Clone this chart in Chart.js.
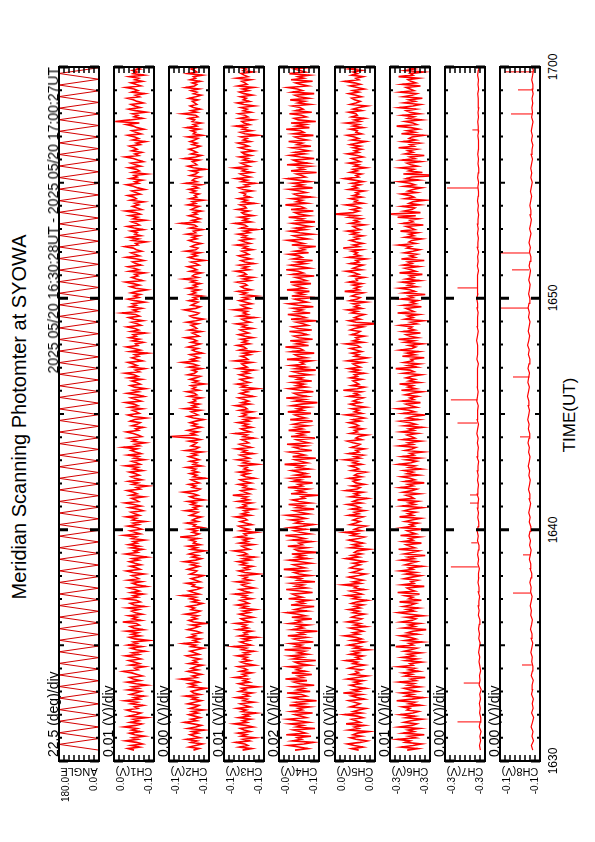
<!DOCTYPE html>
<html>
<head>
<meta charset="utf-8">
<script src="https://cdn.jsdelivr.net/npm/chart.js@4.4.1/dist/chart.umd.min.js"></script>
<style>
  html, body { margin: 0; padding: 0; background: #fff; }
  #page { position: relative; width: 595px; height: 842px; overflow: hidden;
          font-family: "Liberation Sans", Arial, Helvetica, sans-serif; color: #000; }
  #page canvas { position: absolute; }
  .txt { position: absolute; white-space: nowrap; line-height: 1; transform-origin: 0 0; }
</style>
</head>
<body>
<div id="page"></div>
<script>
// Meridian Scanning Photometer, SYOWA - 2025 05/20 16:30:28UT .. 17:00:27UT
// time is in minutes after 16:00 UT

const titleText = 'Meridian Scanning Photomter at SYOWA';
const periodText = '2025 05/20 16:30:28UT - 2025 05/20 17:00:27UT';
const axisTitle = 'TIME(UT)';

const timeTicks = [30, 40, 50, 60];
const timeTickLabels = ['1630', '1640', '1650', '1700'];

const channelNames = ['ANGLE', 'CH1(V)', 'CH2(V)', 'CH3(V)', 'CH4(V)', 'CH5(V)', 'CH6(V)', 'CH7(V)', 'CH8(V)'];
const divLabels = ['22.5 (deg)/div', '0.01 (V)/div', '0.00 (V)/div', '0.01 (V)/div', '0.02 (V)/div',
                   '0.00 (V)/div', '0.01 (V)/div', '0.00 (V)/div', '0.00 (V)/div'];
const highLabels = ['180.0', '0.0', '-0.1', '-0.1', '-0.0', '0.0', '-0.3', '-0.3', '-0.1'];
const lowLabels  = ['0.0', '-0.1', '-0.1', '-0.1', '-0.1', '0.0', '-0.3', '-0.3', '-0.1'];

// value range shown across each strip (high value on the left)
const axisHigh = [180, -14.4, -75, -73.4, -46, 31.9, -279, -270, -80];
const axisLow  = [0, -67.4, -111, -126.4, -96, 3.4, -321, -302, -112];

// sampling of the busy channels (every 4 s) and the quiet ones (every 12 s)
const START = 30.47, END = 60.45, SAMPLES = 450, QUIET_SAMPLES = 150;

// scan angle turning points
const angleTimes = [30.47,30.72,30.97,31.22,31.47,31.72,31.97,32.22,32.47,32.72,
  32.97,33.22,33.47,33.72,33.97,34.22,34.47,34.72,34.97,35.22,
  35.47,35.72,35.97,36.22,36.47,36.72,36.97,37.22,37.47,37.72,
  37.97,38.22,38.47,38.72,38.97,39.22,39.47,39.72,39.97,40.22,
  40.47,40.72,40.97,41.22,41.47,41.72,41.97,42.22,42.47,42.72,
  42.97,43.22,43.47,43.72,43.97,44.22,44.47,44.72,44.97,45.22,
  45.47,45.72,45.97,46.22,46.47,46.72,46.97,47.22,47.47,47.72,
  47.97,48.22,48.47,48.72,48.97,49.22,49.47,49.72,49.97,50.22,
  50.47,50.72,50.97,51.22,51.47,51.72,51.97,52.22,52.47,52.72,
  52.97,53.22,53.47,53.72,53.97,54.22,54.47,54.72,54.97,55.22,
  55.47,55.72,55.97,56.22,56.47,56.72,56.97,57.22,57.47,57.72,
  57.97,58.22,58.47,58.72,58.97,59.22,59.47,59.72,59.97,60.22,60.47];
const angleValues = [0,180,0,180,0,180,0,180,0,180,0,180,0,180,0,180,0,180,0,180,
  0,180,0,180,0,180,0,180,0,180,0,180,0,180,0,180,0,180,0,180,
  0,180,0,180,0,180,0,180,0,180,0,180,0,180,0,180,0,180,0,180,
  0,180,0,180,0,180,0,180,0,180,0,180,0,180,0,180,0,180,0,180,
  0,180,0,180,0,180,0,180,0,180,0,180,0,180,0,180,0,180,0,180,
  0,180,0,180,0,180,0,180,0,180,0,180,0,180,0,180,0,180,0,180,0];

// channel voltages in mV
const ch1 = [-41,-33,-48,-37,-52,-44,-30,-46,-39,-55,-42,-35,-49,-38,-45,-28,-43,-51,-36,-47,-40,-57,-34,-44,-50,-38,-31,-46,-42,-53,
  -37,-45,-29,-48,-41,-54,-36,-43,-50,-33,-47,-39,-58,-44,-32,-49,-40,-35,-52,-45,-38,-27,-46,-42,-55,-36,-48,-41,-34,-50,
  -43,-30,-47,-39,-56,-44,-37,-51,-33,-45,-40,-60,-42,-35,-49,-38,-46,-31,-53,-41,-36,-48,-44,-26,-50,-39,-45,-34,-52,-43,
  -38,-47,-32,-55,-41,-36,-49,-44,-29,-46,-40,-53,-37,-48,-42,-34,-57,-45,-39,-51,-33,-47,-43,-38,-54,-40,-31,-49,-44,-36,
  -50,-42,-35,-47,-39,-58,-43,-30,-46,-41,-52,-37,-48,-34,-45,-40,-55,-38,-44,-28,-49,-42,-36,-51,-45,-33,-47,-40,-56,-39,
  -44,-31,-48,-42,-37,-53,-46,-35,-50,-41,-29,-47,-43,-38,-54,-36,-45,-40,-32,-49,-44,-59,-39,-46,-34,-51,-42,-37,-48,-43,
  -35,-52,-40,-46,-30,-49,-44,-38,-55,-41,-47,-33,-50,-43,-37,-45,-27,-48,-42,-56,-39,-44,-34,-51,-46,-40,-31,-47,-43,-53,
  -38,-45,-49,-36,-42,-57,-40,-33,-48,-44,-39,-52,-35,-46,-41,-30,-50,-43,-37,-54,-45,-32,-47,-40,-56,-42,-36,-49,-44,-38,
  -51,-34,-46,-41,-29,-48,-43,-55,-37,-45,-40,-33,-52,-44,-38,-47,-42,-59,-36,-49,-41,-31,-46,-43,-53,-39,-48,-35,-44,-40,
  -56,-37,-47,-42,-32,-50,-45,-38,-53,-41,-34,-48,-43,-25,-46,-40,-51,-36,-44,-39,-55,-42,-33,-47,-41,-49,-37,-45,-58,-43,
  -36,-48,-40,-30,-52,-44,-38,-46,-42,-55,-35,-47,-41,-33,-50,-43,-39,-54,-45,-31,-48,-42,-37,-51,-44,-40,-29,-46,-43,-57,
  -39,-47,-34,-50,-42,-45,-37,-53,-41,-32,-48,-44,-38,-56,-40,-46,-35,-49,-43,-30,-51,-45,-39,-47,-42,-54,-36,-44,-41,-33,
  -49,-43,-38,-55,-46,-40,-31,-47,-42,-52,-36,-45,-41,-58,-39,-48,-44,-34,-50,-43,-37,-53,-46,-40,-29,-47,-42,-51,-38,-45,
  -41,-35,-49,-44,-56,-39,-47,-42,-33,-50,-43,-38,-54,-45,-40,-31,-48,-16,-36,-52,-41,-46,-39,-57,-43,-34,-49,-42,-37,-53,
  -45,-40,-32,-48,-43,-55,-38,-46,-41,-30,-50,-44,-37,-52,-42,-47,-35,-54,-40,-45,-39,-49,-43,-33,-51,-46,-38,-44,-41,-48];
const ch2 = [-97,-102,-93,-99,-105,-95,-100,-91,-103,-98,-94,-101,-96,-107,-92,-99,-104,-97,-89,-100,-95,-103,-98,-93,-101,-96,-106,-94,-99,-102,
  -92,-98,-104,-96,-100,-90,-103,-97,-95,-101,-108,-94,-99,-93,-102,-97,-86,-100,-96,-104,-98,-92,-101,-95,-99,-105,-93,-100,-97,-103,
  -96,-91,-102,-98,-94,-100,-106,-95,-99,-88,-101,-97,-103,-93,-99,-96,-104,-100,-92,-98,-102,-95,-109,-97,-93,-100,-96,-101,-90,-99,
  -103,-95,-98,-92,-100,-105,-96,-101,-94,-99,-87,-102,-97,-93,-100,-104,-96,-98,-91,-103,-99,-95,-101,-106,-94,-98,-100,-92,-97,-102,
  -95,-100,-89,-99,-104,-96,-101,-93,-98,-107,-95,-100,-92,-103,-97,-99,-94,-101,-85,-98,-102,-96,-100,-93,-105,-97,-99,-91,-101,-96,
  -99,-104,-94,-98,-101,-90,-100,-97,-103,-95,-99,-92,-106,-98,-94,-101,-97,-88,-100,-103,-96,-99,-93,-102,-98,-95,-108,-97,-100,-94,
  -101,-96,-99,-91,-104,-97,-100,-94,-102,-98,-93,-100,-96,-105,-90,-99,-102,-95,-98,-100,-93,-103,-97,-76,-99,-95,-101,-92,-98,-104,
  -96,-100,-94,-99,-106,-97,-92,-101,-98,-95,-103,-89,-100,-96,-102,-94,-99,-97,-104,-93,-100,-98,-91,-102,-96,-99,-95,-107,-97,-101,
  -94,-99,-103,-92,-98,-100,-96,-104,-93,-101,-97,-87,-100,-95,-102,-98,-94,-105,-99,-96,-101,-92,-98,-103,-95,-100,-97,-90,-102,-99,
  -96,-104,-93,-100,-98,-95,-101,-91,-99,-106,-97,-94,-100,-102,-96,-89,-99,-103,-95,-98,-101,-93,-100,-97,-105,-94,-99,-96,-102,-92,
  -100,-97,-103,-95,-99,-88,-101,-96,-98,-104,-94,-100,-97,-92,-102,-99,-95,-107,-98,-93,-100,-96,-103,-90,-99,-101,-95,-98,-104,-97,
  -93,-100,-96,-102,-91,-99,-97,-105,-94,-100,-98,-86,-101,-96,-103,-99,-93,-100,-97,-104,-95,-98,-102,-92,-99,-96,-106,-94,-100,-98,
  -102,-95,-99,-93,-101,-97,-104,-90,-100,-96,-98,-103,-94,-99,-101,-95,-108,-97,-92,-100,-98,-96,-102,-89,-99,-104,-95,-100,-97,-93,
  -99,-103,-96,-100,-94,-98,-101,-92,-105,-97,-99,-95,-102,-91,-100,-97,-104,-96,-98,-93,-101,-99,-87,-100,-95,-103,-97,-94,-100,-98,
  -96,-101,-93,-99,-104,-97,-100,-95,-102,-90,-98,-100,-96,-103,-94,-99,-97,-105,-92,-100,-98,-95,-101,-97,-93,-102,-99,-96,-100,-94];
const ch3 = [-98,-110,-94,-105,-101,-89,-107,-99,-115,-96,-103,-92,-108,-100,-95,-112,-102,-87,-104,-98,-109,-93,-106,-100,-116,-97,-103,-91,-108,-101,
  -95,-113,-99,-104,-90,-106,-100,-111,-94,-102,-97,-118,-101,-93,-107,-99,-105,-88,-103,-98,-110,-95,-104,-100,-92,-114,-102,-96,-108,-99,
  -104,-91,-106,-100,-113,-97,-103,-86,-109,-101,-95,-107,-99,-117,-94,-104,-100,-110,-92,-105,-98,-103,-89,-108,-100,-96,-112,-102,-94,-107,
  -99,-115,-97,-104,-91,-106,-101,-95,-110,-98,-103,-88,-108,-100,-94,-113,-102,-97,-105,-90,-109,-99,-104,-96,-119,-101,-93,-106,-100,-111,
  -96,-103,-92,-108,-99,-114,-95,-104,-100,-87,-107,-101,-97,-112,-94,-105,-99,-109,-91,-103,-100,-116,-96,-106,-98,-93,-110,-102,-95,-104,
  -101,-89,-108,-97,-105,-100,-113,-94,-103,-99,-110,-92,-106,-98,-104,-85,-107,-101,-96,-111,-99,-103,-93,-109,-100,-95,-114,-102,-97,-106,
  -93,-108,-100,-104,-96,-117,-99,-105,-91,-107,-101,-95,-112,-98,-103,-90,-109,-100,-94,-106,-102,-97,-113,-99,-104,-88,-108,-101,-96,-110,
  -99,-105,-92,-107,-100,-115,-96,-103,-98,-111,-94,-104,-101,-89,-108,-97,-106,-100,-93,-112,-102,-95,-105,-99,-118,-97,-103,-91,-107,-100,
  -95,-109,-101,-94,-106,-99,-113,-92,-104,-100,-97,-110,-88,-105,-102,-96,-108,-99,-115,-94,-103,-100,-91,-107,-98,-104,-96,-112,-101,-93,
  -106,-100,-95,-111,-98,-103,-90,-108,-101,-97,-114,-93,-105,-99,-104,-87,-107,-100,-96,-110,-102,-94,-106,-99,-116,-97,-103,-92,-109,-100,
  -96,-104,-101,-91,-108,-99,-112,-95,-103,-100,-89,-107,-98,-105,-94,-113,-101,-96,-109,-100,-93,-106,-102,-97,-111,-99,-104,-90,-108,-101,
  -95,-110,-98,-103,-92,-107,-100,-117,-96,-104,-101,-88,-109,-99,-105,-94,-112,-100,-97,-106,-91,-103,-101,-95,-114,-98,-104,-93,-108,-100,
  -102,-96,-111,-99,-93,-106,-101,-115,-97,-104,-90,-108,-100,-95,-110,-98,-103,-87,-107,-101,-96,-112,-99,-105,-94,-109,-100,-97,-113,-102,
  -94,-106,-100,-92,-108,-99,-104,-96,-118,-101,-95,-110,-98,-103,-89,-107,-100,-97,-112,-94,-105,-101,-93,-109,-99,-104,-96,-114,-100,-91,
  -107,-99,-103,-95,-111,-100,-94,-106,-98,-113,-92,-104,-101,-97,-109,-90,-105,-100,-96,-112,-99,-103,-94,-108,-101,-97,-110,-100,-95,-104];
const ch4 = [-66,-82,-71,-58,-77,-89,-63,-74,-69,-86,-55,-79,-72,-64,-91,-68,-76,-60,-83,-70,-57,-80,-73,-66,-88,-62,-75,-70,-84,-59,
  -78,-67,-93,-71,-61,-80,-74,-56,-85,-69,-77,-63,-90,-72,-65,-81,-54,-76,-70,-87,-62,-79,-68,-73,-58,-84,-71,-66,-92,-64,
  -75,-60,-82,-70,-78,-53,-86,-67,-74,-61,-89,-72,-65,-80,-57,-77,-71,-94,-63,-76,-69,-83,-59,-73,-68,-87,-62,-79,-70,-56,
  -81,-66,-74,-90,-61,-77,-70,-84,-58,-75,-68,-63,-88,-72,-55,-80,-67,-76,-62,-91,-69,-74,-60,-85,-71,-65,-79,-52,-78,-70,
  -64,-86,-73,-59,-82,-68,-77,-62,-93,-70,-66,-81,-57,-75,-71,-87,-63,-78,-69,-54,-84,-72,-65,-80,-60,-76,-89,-67,-74,-61,
  -79,-70,-56,-83,-72,-65,-90,-68,-76,-58,-85,-71,-63,-78,-74,-95,-61,-77,-69,-82,-57,-75,-70,-88,-64,-73,-60,-86,-67,-80,
  -71,-62,-84,-69,-76,-53,-81,-73,-66,-92,-63,-78,-70,-59,-87,-72,-65,-79,-56,-83,-74,-68,-91,-61,-77,-70,-85,-58,-75,-67,
  -82,-64,-73,-88,-60,-79,-71,-66,-86,-57,-76,-69,-83,-62,-74,-94,-67,-78,-55,-81,-70,-65,-89,-72,-59,-80,-68,-77,-63,-87,
  -69,-75,-58,-84,-71,-64,-92,-67,-79,-61,-77,-73,-86,-56,-80,-70,-66,-90,-62,-76,-72,-54,-83,-68,-78,-60,-88,-71,-65,-81,
  -74,-59,-87,-70,-63,-82,-76,-68,-93,-61,-79,-72,-57,-85,-67,-75,-64,-89,-70,-58,-81,-73,-66,-91,-62,-77,-69,-84,-56,-78,
  -71,-65,-86,-60,-80,-74,-67,-90,-63,-76,-70,-55,-84,-72,-61,-79,-68,-88,-64,-75,-71,-59,-83,-66,-78,-73,-92,-62,-77,-69,
  -57,-82,-70,-64,-87,-72,-60,-79,-67,-85,-74,-63,-91,-69,-76,-58,-83,-71,-66,-89,-61,-78,-73,-54,-81,-68,-75,-62,-86,-70,
  -65,-80,-72,-59,-88,-67,-76,-63,-84,-70,-57,-79,-74,-68,-93,-61,-77,-71,-85,-56,-82,-69,-64,-90,-73,-60,-78,-66,-83,-72,
  -62,-86,-69,-75,-58,-81,-71,-66,-89,-64,-77,-73,-55,-84,-68,-79,-61,-92,-70,-65,-80,-74,-59,-87,-67,-76,-72,-63,-85,-70,
  -78,-60,-83,-71,-66,-90,-63,-75,-69,-57,-82,-73,-67,-88,-61,-77,-70,-84,-59,-79,-72,-65,-86,-68,-74,-62,-81,-70,-64,-76];
const ch5 = [15,20,12,18,23,14,9,17,21,13,19,16,8,22,15,18,11,24,14,17,20,12,16,25,13,19,15,10,21,17,
  14,18,22,11,16,20,13,26,15,19,10,17,21,14,18,12,23,16,9,20,15,17,13,22,18,11,19,16,24,14,
  17,12,21,15,19,8,18,14,22,16,11,20,13,17,25,15,19,12,16,21,10,18,14,23,16,13,20,17,11,19,
  15,22,14,18,12,20,16,9,19,15,23,13,17,21,11,18,16,26,14,19,12,17,22,15,10,20,16,13,21,18,
  14,19,11,17,24,15,20,13,18,16,8,21,14,19,12,17,22,15,11,20,16,25,13,18,15,10,21,17,14,19,
  16,12,22,15,18,11,20,14,17,23,13,19,16,9,21,15,18,12,24,16,14,20,11,17,19,15,22,13,18,16,
  10,20,15,17,21,13,19,16,25,14,18,12,22,15,17,11,20,16,14,19,23,13,17,15,9,21,16,18,12,20,
  15,17,22,14,19,11,16,24,13,18,15,20,10,17,21,14,19,16,12,22,15,18,13,26,16,11,20,15,17,19,
  13,21,16,18,11,20,15,22,14,17,19,12,23,16,9,18,15,20,13,17,21,14,16,24,12,19,15,17,11,20,
  16,14,21,18,12,19,2,17,22,14,18,15,11,20,16,23,13,18,15,19,10,21,16,14,20,17,12,25,15,18,
  14,19,13,22,16,17,11,20,15,18,24,13,19,16,12,21,15,17,10,22,14,18,16,20,13,26,15,19,12,17,
  21,15,18,12,20,16,23,14,17,19,11,21,15,18,13,22,16,33,19,15,20,14,17,24,12,18,16,21,13,19,
  15,17,11,22,16,19,14,20,12,18,25,15,17,13,21,16,19,10,18,15,22,14,17,20,12,16,23,15,18,13,
  19,14,21,16,10,20,15,18,23,13,17,16,21,12,19,15,24,14,18,11,20,16,17,22,13,19,15,9,21,17,
  14,18,20,13,17,22,15,19,11,16,21,14,18,25,15,17,12,20,16,19,13,22,15,18,10,17,21,14,19,16];
const ch6 = [-297,-308,-291,-303,-312,-295,-300,-287,-306,-299,-315,-293,-304,-298,-310,-289,-302,-307,-294,-301,-313,-296,-305,-290,-303,-309,-297,-300,-292,-311,
  -299,-305,-286,-302,-314,-296,-303,-291,-308,-300,-294,-310,-298,-304,-289,-306,-301,-316,-295,-302,-293,-309,-299,-305,-288,-303,-300,-312,-296,-307,
  -292,-304,-298,-311,-294,-301,-307,-285,-303,-299,-313,-295,-306,-300,-290,-308,-297,-303,-317,-293,-305,-299,-310,-291,-302,-306,-296,-314,-300,-288,
  -304,-297,-309,-293,-301,-306,-289,-312,-299,-303,-295,-310,-287,-305,-300,-297,-315,-292,-304,-301,-308,-294,-302,-311,-296,-306,-290,-303,-299,-313,
  -295,-301,-307,-291,-304,-298,-316,-294,-302,-309,-288,-305,-300,-296,-312,-293,-303,-299,-310,-290,-306,-301,-297,-314,-292,-304,-300,-308,-295,-302,
  -311,-289,-303,-298,-306,-294,-300,-313,-292,-305,-299,-308,-287,-304,-301,-296,-310,-293,-302,-307,-290,-303,-298,-315,-295,-305,-300,-291,-309,-297,
  -303,-294,-312,-299,-305,-288,-301,-307,-296,-310,-292,-304,-300,-314,-295,-302,-306,-289,-303,-298,-311,-293,-305,-301,-297,-308,-291,-304,-299,-313,
  -294,-306,-300,-290,-309,-297,-303,-316,-293,-305,-299,-287,-307,-301,-296,-311,-292,-304,-300,-308,-295,-302,-313,-291,-306,-298,-303,-289,-310,-299,
  -305,-296,-302,-312,-293,-304,-300,-285,-307,-298,-310,-294,-303,-301,-315,-292,-305,-297,-309,-290,-302,-306,-299,-313,-295,-304,-288,-308,-300,-296,
  -311,-293,-305,-299,-302,-290,-307,-301,-314,-295,-303,-298,-309,-287,-304,-300,-296,-312,-293,-306,-301,-308,-291,-303,-299,-316,-294,-305,-300,-289,
  -307,-298,-303,-292,-310,-296,-304,-300,-313,-289,-306,-301,-295,-309,-293,-302,-298,-315,-291,-305,-300,-307,-294,-303,-310,-297,-301,-288,-306,-299,
  -302,-312,-295,-304,-299,-308,-290,-305,-301,-296,-314,-293,-303,-300,-309,-287,-306,-278,-311,-294,-302,-305,-292,-310,-299,-303,-316,-295,-304,-300,
  -291,-307,-298,-303,-312,-294,-305,-300,-289,-309,-296,-302,-330,-293,-313,-299,-304,-290,-308,-301,-297,-311,-292,-305,-300,-315,-295,-303,-298,-307,
  -288,-304,-300,-310,-293,-306,-299,-302,-314,-291,-305,-297,-309,-301,-286,-307,-303,-295,-312,-298,-304,-292,-310,-300,-296,-306,-289,-303,-311,-294,
  -305,-299,-313,-293,-302,-307,-290,-304,-300,-296,-311,-292,-306,-301,-298,-309,-288,-303,-300,-314,-295,-305,-297,-308,-291,-302,-306,-299,-310,-296];
const ch7 = [-298.3,-297.6,-298.5,-297.9,-298.8,-297.4,-298.1,-298.6,-297.7,-298.2,-297.5,-298.4,-297.8,-298.9,-297.3,-298.0,-297.6,-298.5,-297.9,-297.2,
  -297.8,-296.9,-297.5,-298.1,-297.0,-297.6,-296.8,-297.4,-297.9,-296.7,-297.3,-296.5,-297.1,-297.7,-296.6,-297.2,-296.4,-297.0,-296.8,-297.5,
  -296.3,-296.9,-296.1,-296.7,-297.2,-296.0,-296.6,-295.8,-296.5,-297.0,-296.2,-296.8,-295.9,-296.4,-296.9,-295.7,-296.3,-296.8,-296.0,-296.6,
  -295.8,-296.4,-296.9,-295.6,-296.2,-296.7,-295.9,-296.5,-295.5,-296.1,-296.8,-295.7,-296.3,-295.9,-296.6,-295.4,-296.0,-296.5,-295.8,-296.2,
  -295.6,-296.3,-295.9,-296.7,-295.5,-296.1,-295.8,-296.4,-295.3,-296.0,-296.6,-295.7,-296.2,-295.9,-296.5,-295.6,-296.1,-295.4,-296.3,-295.8,
  -296.4,-295.7,-296.2,-296.8,-295.9,-296.5,-296.1,-296.9,-295.8,-296.3,-296.7,-296.0,-296.6,-295.9,-296.4,-296.9,-296.2,-296.7,-296.0,-296.5,
  -296.8,-296.3,-296.9,-296.1,-296.6,-297.0,-296.4,-296.8,-296.2,-296.7,-296.5,-297.1,-296.3,-296.9,-296.6,-296.2,-296.8,-296.4,-297.0,-296.5,
  -296.7,-296.2,-296.9,-296.4,-296.8,-296.1,-296.6,-297.0,-296.3,-296.7];
const ch8 = [-106.2,-105.1,-106.8,-105.6,-106.4,-104.9,-106.0,-106.9,-105.3,-106.5,-105.8,-106.7,-105.2,-106.1,-105.7,-106.6,-105.0,-105.9,-106.3,-105.4,
  -105.8,-104.7,-105.5,-106.2,-104.9,-105.6,-104.4,-105.3,-105.9,-104.6,-105.1,-104.2,-105.0,-105.7,-104.5,-104.9,-103.9,-104.8,-105.4,-104.1,
  -104.6,-103.5,-104.3,-104.9,-103.7,-104.4,-103.2,-104.0,-104.7,-103.4,-104.1,-103.0,-103.8,-104.5,-103.3,-103.9,-102.8,-103.6,-104.2,-103.1,
  -103.7,-102.6,-103.4,-104.0,-102.9,-103.5,-102.4,-103.2,-103.8,-102.7,-103.3,-102.2,-103.0,-103.6,-102.5,-103.1,-102.0,-102.8,-103.5,-102.3,
  -102.9,-103.6,-102.4,-103.2,-103.9,-102.7,-103.4,-102.1,-103.0,-103.7,-102.6,-103.3,-104.0,-102.8,-103.5,-102.5,-103.2,-103.9,-102.9,-103.6,
  -104.1,-103.0,-103.8,-104.4,-103.3,-104.0,-104.7,-103.6,-104.3,-103.2,-104.0,-104.8,-103.7,-104.5,-105.1,-104.0,-104.7,-103.9,-104.6,-105.3,
  -104.4,-105.1,-105.8,-104.7,-105.4,-104.6,-105.3,-106.0,-104.9,-105.6,-106.3,-105.2,-105.9,-105.0,-105.7,-106.4,-105.3,-106.0,-105.5,-106.2,
  -105.6,-106.5,-105.8,-106.3,-105.4,-106.1,-106.7,-105.7,-106.2,-105.9];

// short spikes on the quiet channels (time, peak)
const ch7SpikeTimes  = [31.69, 33.37, 38.39, 39.43, 41.15, 41.50, 44.61, 45.61, 50.45, 54.77, 57.28];
const ch7SpikeValues = [-280, -285, -274.7, -291, -290, -290, -280, -274.7, -280, -271.6, -291.9];
const ch8SpikeTimes  = [34.15, 37.26, 38.91, 44.01, 46.60, 49.58, 51.23, 51.96, 57.97, 59.01, 59.79];
const ch8SpikeValues = [-97.6, -90.4, -98.4, -96, -90.4, -80, -89.6, -80, -88.8, -94.4, -84];

const channelSeries = [null, ch1, ch2, ch3, ch4, ch5, ch6, ch7, ch8];

// ---- layout ----
const PANEL_TOP = 67, PANEL_BOTTOM = 761, PANEL_W = 40, PAD = 2;
const FIRST_LEFT = 59, PANEL_STEP = 55.1;
const page = document.getElementById('page');

const grid = n => Array.from({ length: n }, (_, k) => START + k * (END - START) / (n - 1));
const busyTimes = grid(SAMPLES);
const quietTimes = grid(QUIET_SAMPLES);

function addText(str, x, y, size, transform) {
  const el = document.createElement('div');
  el.className = 'txt';
  el.textContent = str;
  el.style.left = x + 'px';
  el.style.top = y + 'px';
  el.style.fontSize = size + 'px';
  el.style.transform = transform;
  page.appendChild(el);
  return el;
}
const UP_CENTER = 'rotate(-90deg) translate(-50%, 0)';
const UP_START = 'rotate(-90deg)';
const UP_END = 'rotate(-90deg) translateX(-100%)';
const FLIP_CENTER = 'rotate(180deg) translate(-50%, -50%)';

// frame, minute ticks and division ticks drawn over the traces
const framePlugin = {
  id: 'frame',
  afterDatasetsDraw(chart) {
    const { ctx, chartArea: a, scales: { x, y } } = chart;
    ctx.save();
    ctx.strokeStyle = '#000';
    for (let m = 30; m <= 60; m++) {
      const py = y.getPixelForValue(m);
      const len = m % 10 === 0 ? 9 : (m % 5 === 0 ? 5 : 3);
      ctx.lineWidth = m % 10 === 0 ? 3 : 2;
      ctx.beginPath();
      ctx.moveTo(a.left, py); ctx.lineTo(a.left + len, py);
      ctx.moveTo(a.right, py); ctx.lineTo(a.right - len, py);
      ctx.stroke();
    }
    ctx.lineWidth = 1.5;
    ctx.beginPath();
    for (let k = 1; k < 8; k++) {
      const px = x.getPixelForValue(x.min + k * (x.max - x.min) / 8);
      ctx.moveTo(px, a.top); ctx.lineTo(px, a.top + 6);
      ctx.moveTo(px, a.bottom); ctx.lineTo(px, a.bottom - 6);
    }
    ctx.stroke();
    ctx.lineWidth = 2;
    ctx.strokeRect(a.left, a.top, a.width, a.height);
    ctx.restore();
  }
};

function tracePoints(values, times) {
  return values.map((v, k) => ({ x: v, y: times[k] }));
}
function spikePoints(times, peaks, series, seriesTimes) {
  const pts = [];
  times.forEach((t, k) => {
    // each spike leaves from the nearest sample of its channel
    let j = 0;
    while (j < seriesTimes.length - 1 && seriesTimes[j] < t) j++;
    pts.push({ x: series[j], y: t }, { x: peaks[k], y: t }, { x: NaN, y: t });
  });
  return pts;
}

const charts = [];
channelNames.forEach((name, i) => {
  const left = FIRST_LEFT + i * PANEL_STEP;
  const canvas = document.createElement('canvas');
  canvas.width = PANEL_W + 2 * PAD;
  canvas.height = PANEL_BOTTOM - PANEL_TOP + 2 * PAD;
  canvas.style.left = (left - PAD) + 'px';
  canvas.style.top = (PANEL_TOP - PAD) + 'px';
  page.appendChild(canvas);

  const line = { showLine: true, pointRadius: 0, borderColor: '#ff0000', borderWidth: 1 };
  const datasets = [];
  if (i === 0) {
    datasets.push({ ...line, borderColor: '#d40000', data: tracePoints(angleValues, angleTimes) });
  } else if (i < 7) {
    datasets.push({ ...line, borderWidth: 1.6, data: tracePoints(channelSeries[i], busyTimes) });
  } else {
    datasets.push({ ...line, borderWidth: 1.2, data: tracePoints(channelSeries[i], quietTimes) });
  }
  if (i === 7) datasets.push({ ...line, data: spikePoints(ch7SpikeTimes, ch7SpikeValues, ch7, quietTimes) });
  if (i === 8) datasets.push({ ...line, data: spikePoints(ch8SpikeTimes, ch8SpikeValues, ch8, quietTimes) });

  charts.push(new Chart(canvas, {
    type: 'scatter',
    data: { datasets },
    options: {
      responsive: false,
      animation: false,
      events: [],
      layout: { padding: PAD },
      plugins: { legend: { display: false }, tooltip: { enabled: false } },
      scales: {
        x: { type: 'linear', reverse: true, min: axisLow[i], max: axisHigh[i], display: false },
        y: { type: 'linear', min: 30, max: 60, display: false }
      }
    },
    plugins: [framePlugin]
  }));

  // labels around the strip
  addText(divLabels[i], left - 13, PANEL_BOTTOM - 4, 14, UP_START);
  addText(name, left + PANEL_W / 2, 771, 11, FLIP_CENTER);
  addText(highLabels[i], left + 2, 777, 10, UP_END);
  addText(lowLabels[i], left + PANEL_W - 10, 777, 10, UP_END);
});

addText(titleText, 9, 417, 20, UP_CENTER);
addText(periodText, FIRST_LEFT - 13, PANEL_TOP, 14, UP_END);
addText(axisTitle, 561, 415, 17, UP_CENTER);

const yScale = charts[0].scales.y;
timeTicks.forEach((t, k) => {
  addText(timeTickLabels[k], 547, PANEL_TOP - PAD + yScale.getPixelForValue(t), 12, UP_CENTER);
});
</script>
</body>
</html>
